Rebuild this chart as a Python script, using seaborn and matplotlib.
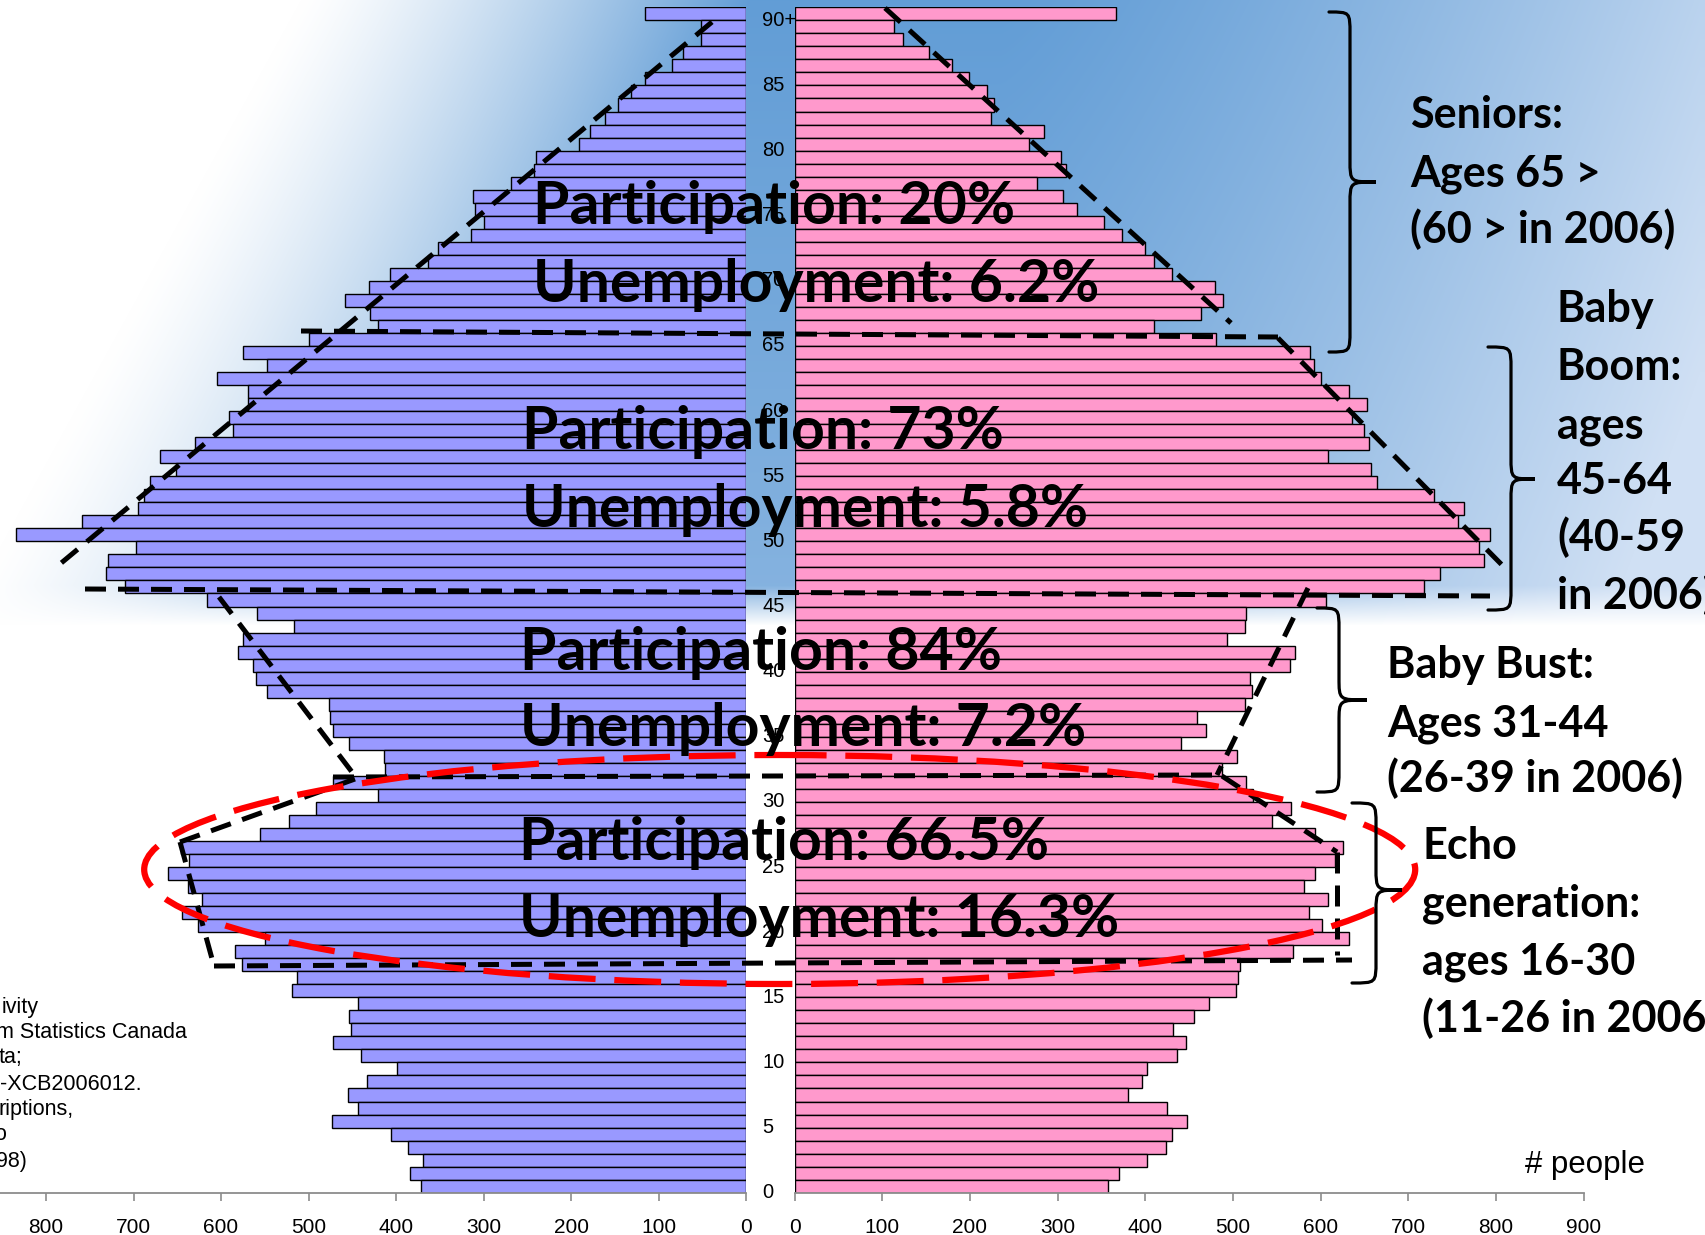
import numpy as np
import pandas as pd
import matplotlib
matplotlib.use("Agg")
import matplotlib.pyplot as plt
import seaborn as sns
from matplotlib.patches import Ellipse, PathPatch
from matplotlib.path import Path
import matplotlib.transforms as mtransforms

# ---------------- data ----------------
age_labels = [str(a) for a in range(90)] + ["90+"]
male = [372, 384, 369, 386, 406, 473, 444, 455, 433, 399,
        440, 472, 451, 454, 444, 519, 513, 576, 584, 550,
        626, 645, 622, 638, 661, 637, 646, 556, 522, 492,
        421, 472, 413, 414, 454, 472, 476, 477, 547, 560,
        564, 581, 575, 517, 559, 616, 710, 731, 729, 697,
        834, 759, 695, 688, 681, 652, 670, 630, 586, 591,
        569, 569, 605, 547, 575, 499, 421, 430, 458, 431,
        407, 363, 352, 314, 299, 310, 312, 269, 242, 240,
        191, 178, 161, 146, 132, 116, 85, 72, 51, 51,
        115]
female = [358, 370, 402, 424, 430, 448, 425, 380, 396, 402,
          436, 446, 432, 456, 473, 504, 506, 508, 568, 633,
          602, 587, 609, 581, 594, 617, 626, 594, 545, 566,
          523, 515, 487, 505, 441, 469, 459, 514, 522, 519,
          565, 571, 493, 514, 515, 606, 718, 736, 786, 781,
          793, 757, 764, 729, 664, 658, 608, 655, 650, 636,
          653, 633, 601, 592, 588, 481, 410, 464, 489, 480,
          430, 410, 400, 374, 353, 322, 306, 277, 310, 304,
          267, 285, 224, 227, 219, 199, 180, 153, 123, 113,
          367]
left_ticks = [800, 700, 600, 500, 400, 300, 200, 100, 0]
right_ticks = [0, 100, 200, 300, 400, 500, 600, 700, 800, 900]
age_tick_labels = ["0", "5", "10", "15", "20", "25", "30", "35", "40", "45",
                   "50", "55", "60", "65", "70", "75", "80", "85", "90+"]
group_stats = [("Participation: 20%", "Unemployment: 6.2%"),
               ("Participation: 73%", "Unemployment: 5.8%"),
               ("Participation: 84%", "Unemployment: 7.2%"),
               ("Participation: 66.5%", "Unemployment: 16.3%")]
seniors_lines = ["Seniors:", "Ages 65 >", "(60 > in 2006)"]
boom_lines = ["Baby", "Boom:", "ages", "45-64", "(40-59", "in 2006)"]
bust_lines = ["Baby Bust:", "Ages 31-44", "(26-39 in 2006)"]
echo_lines = ["Echo", "generation:", "ages 16-30", "(11-26 in 2006"]
source_lines = ["ivity", "m Statistics Canada", "ta;", "-XCB2006012.",
                "riptions,", "o", "98)"]
unit_label = "# people"

df = pd.DataFrame({"age": age_labels, "male": male, "female": female})

# ---------------- figure ----------------
sns.set_theme(style="white")
plt.rcParams["font.family"] = ["Liberation Sans", "DejaVu Sans"]

W, H = 1705, 1235
fig = plt.figure(figsize=(W / 100, H / 100), dpi=100)
fig.patch.set_facecolor("white")

# background sky
bg = fig.add_axes([0, 0, 1, 1], zorder=0)
yy, xx = np.mgrid[0:H, 0:W].astype(float)
deep = np.array([98, 157, 214]) / 255.0
light = np.array([208, 224, 244]) / 255.0
u = np.clip((xx - 1000) / 700.0, 0, 1)
v = np.clip(yy / 650.0, 0, 1)
k = np.clip(0.8 * u ** 1.3 + 0.35 * v, 0, 1)[..., None]
base = deep + (light - deep) * k
t = np.clip(((xx - 300) + 0.55 * yy) / 450.0, 0, 1)
t = t ** 1.3
s = np.clip((625 - yy) / 40.0, 0, 1)
f = (t * s)[..., None]
img = 1 - (1 - base) * f
bg.imshow(img, extent=[0, W, H, 0], aspect="auto", interpolation="bilinear")
bg.set_xlim(0, W)
bg.set_ylim(H, 0)
bg.axis("off")

top, bot = 7.3, 1192.7
axL = fig.add_axes([0, 1 - bot / H, 746 / W, (bot - top) / H], zorder=1)
axR = fig.add_axes([794.7 / W, 1 - bot / H, 788.8 / W, (bot - top) / H], zorder=1)

order = age_labels[::-1]
sns.barplot(data=df, x="male", y="age", order=order, orient="h", color="#9999FF",
            saturation=1, edgecolor="black", linewidth=1.0, width=1.0,
            errorbar=None, ax=axL)
sns.barplot(data=df, x="female", y="age", order=order, orient="h", color="#FF99CC",
            saturation=1, edgecolor="black", linewidth=1.0, width=1.0,
            errorbar=None, ax=axR)

axis_grey = "#8C8C8C"
for ax in (axL, axR):
    ax.set_facecolor("none")
    ax.set_ylim(len(order) - 0.5, -0.5)
    ax.set_xlabel("")
    ax.set_ylabel("")
    for sp in ("top", "left", "right"):
        ax.spines[sp].set_visible(False)
    ax.spines["bottom"].set_color(axis_grey)
    ax.spines["bottom"].set_linewidth(1.3)
    ax.tick_params(axis="x", direction="out", length=6, width=1.2, color=axis_grey,
                   labelsize=15, pad=12, labelcolor="black", bottom=True)

axL.set_xlim(852.6, 0)
axL.set_xticks(left_ticks)
axL.set_xticklabels([str(v) for v in left_ticks])
axL.set_yticks([])

axR.set_xlim(0, 900)
axR.set_xticks(right_ticks)
axR.set_xticklabels([str(v) for v in right_ticks])
tick_pos = [order.index(lbl) for lbl in age_tick_labels]
axR.set_yticks(tick_pos)
axR.set_yticklabels(age_tick_labels)
axR.tick_params(axis="y", length=0, pad=23.5, labelsize=14.5, labelcolor="black")
offset = mtransforms.ScaledTranslation(0, -4.5 / 100, fig.dpi_scale_trans)
for lab in axR.get_yticklabels():
    lab.set_horizontalalignment("left")
    lab.set_transform(lab.get_transform() + offset)

# ---------------- overlay (pixel coordinates) ----------------
ov = fig.add_axes([0, 0, 1, 1], zorder=3)
ov.set_xlim(0, W)
ov.set_ylim(H, 0)
ov.axis("off")
ov.patch.set_alpha(0)

dash_style = (0, (4.2, 2.4))
segments = [
    ((712, 22), (54, 569)),
    ((885, 8), (1231, 323)),
    ((301, 331), (1278, 337)),
    ((1278, 338), (1506, 569)),
    ((85, 589), (1490, 596)),
    ((219, 597), (355, 776)),
    ((1308, 588), (1217, 775)),
    ((333, 777), (1217, 775)),
    ((355, 779), (180, 842)),
    ((180, 842), (214, 966)),
    ((214, 966), (1352, 960)),
    ((1222, 776), (1337, 852)),
    ((1337, 852), (1337, 955)),
]
for (x0, y0), (x1, y1) in segments:
    ov.plot([x0, x1], [y0, y1], color="black", lw=3.6, linestyle=dash_style,
            dash_capstyle="butt", zorder=4)

ov.add_patch(Ellipse((779.7, 869.5), 1271, 229, fill=False, edgecolor="#FF0000",
                     lw=4.5, linestyle=(0, (7.5, 3.0)), zorder=5))


def brace(x_end, x_body, y0, y1, x_tip, y_tip, r=22):
    verts = [(x_end, y0), (x_body, y0), (x_body, y0), (x_body, y0 + r),
             (x_body, y_tip - r),
             (x_body, y_tip), (x_body, y_tip), (x_tip, y_tip),
             (x_body, y_tip), (x_body, y_tip), (x_body, y_tip + r),
             (x_body, y1 - r),
             (x_body, y1), (x_body, y1), (x_end, y1)]
    codes = [Path.MOVETO, Path.CURVE4, Path.CURVE4, Path.CURVE4,
             Path.LINETO,
             Path.CURVE4, Path.CURVE4, Path.CURVE4,
             Path.CURVE4, Path.CURVE4, Path.CURVE4,
             Path.LINETO,
             Path.CURVE4, Path.CURVE4, Path.CURVE4]
    ov.add_patch(PathPatch(Path(verts, codes), fill=False, edgecolor="black",
                           lw=2.3, capstyle="round", zorder=6))


brace(1329, 1350, 12, 352, 1376, 182)
brace(1488, 1511, 347, 610, 1535, 479)
brace(1317, 1339, 608, 792, 1367, 700)
brace(1352, 1376, 803, 983, 1402, 890)

renderer = fig.canvas.get_renderer()


def fit_size(text, target_w, family, weight):
    tmp = ov.text(0, 0, text, fontsize=40, family=family, fontweight=weight)
    w = tmp.get_window_extent(renderer).width
    tmp.remove()
    return 40 * target_w / w


bold_family = ["Lato", "DejaVu Sans"]
big_fs = fit_size("Participation: 20%", 481, bold_family, "bold")
side_fs = fit_size("(26-39 in 2006)", 296, bold_family, "bold")

big_pos = [(533, 224, 302), (522, 449, 527), (520, 670, 746), (519, 860, 937)]
for (p_txt, u_txt), (x, yb1, yb2) in zip(group_stats, big_pos):
    ov.text(x, yb1, p_txt, fontsize=big_fs, family=bold_family, fontweight="bold",
            ha="left", va="baseline", color="black", zorder=7)
    ov.text(x, yb2, u_txt, fontsize=big_fs, family=bold_family, fontweight="bold",
            ha="left", va="baseline", color="black", zorder=7)


def block(lines, x, baselines):
    for txt, yb in zip(lines, baselines):
        ov.text(x, yb, txt, fontsize=side_fs, family=bold_family, fontweight="bold",
                ha="left", va="baseline", color="black", zorder=7)


block(seniors_lines, 1410, [128, 186, 243])
block(boom_lines, 1557, [322, 380, 438, 494, 551, 609])
block(bust_lines, 1387, [678, 736, 792])
block(echo_lines, 1422, [859, 916, 974, 1032])

src_x = [2, -4, -1, 0, -1, -6, -4]
src_y = [1008, 1033, 1058, 1085, 1110, 1135, 1162]
for txt, x, y in zip(source_lines, src_x, src_y):
    ov.text(x, y, txt, fontsize=15.5, family=["Liberation Sans", "DejaVu Sans"],
            ha="left", va="center", color="black", zorder=7)

ov.text(1525, 1165, unit_label, fontsize=22.5, family=["Liberation Sans", "DejaVu Sans"],
        ha="left", va="center", color="black", zorder=7)

fig.savefig("out.png", dpi=100)
